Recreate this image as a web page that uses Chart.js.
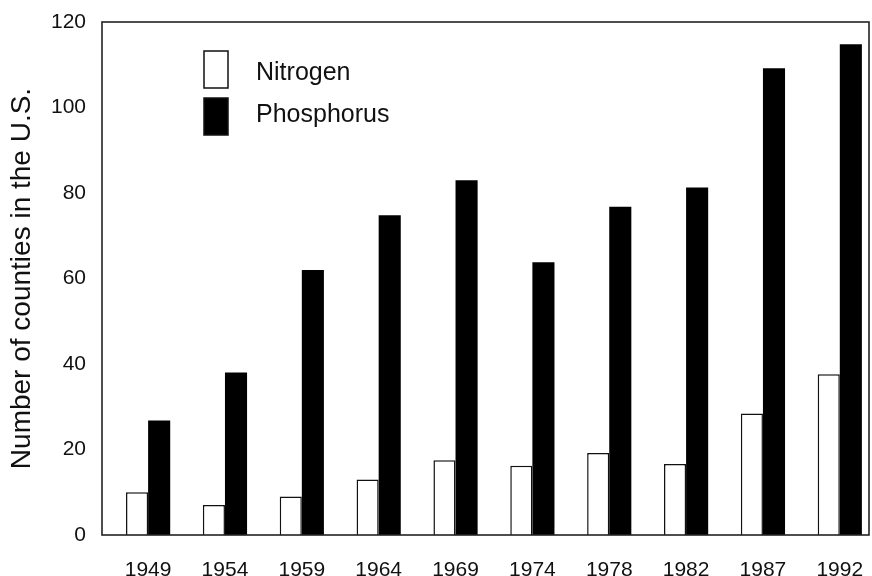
<!DOCTYPE html>
<html>
<head>
<meta charset="utf-8">
<script src="https://cdn.jsdelivr.net/npm/chart.js@4/dist/chart.umd.min.js"></script>
<style>
  html, body { margin: 0; padding: 0; background: #fff; }
  #wrap { width: 872px; height: 576px; }
</style>
</head>
<body>
<div id="wrap"><canvas id="chart" width="872" height="576"></canvas></div>
<script>
var years = ["1949", "1954", "1959", "1964", "1969", "1974", "1978", "1982", "1987", "1992"];
var nitrogen = [10, 7, 9, 13, 17.5, 16.2, 19.2, 16.6, 28.4, 37.6];
var phosphorus = [26.8, 38, 62, 74.8, 83, 63.8, 76.8, 81.3, 109.2, 114.8];
var yTicks = [0, 20, 40, 60, 80, 100, 120];

var ink = "#111";
var font = "'Liberation Sans', Arial, sans-serif";

// frame round the plot + legend drawn inside it
var framePlugin = {
  id: "frame",
  afterDraw: function (chart) {
    var ctx = chart.ctx;
    var a = chart.chartArea;
    ctx.save();
    ctx.strokeStyle = "#222";
    ctx.lineWidth = 1.6;
    ctx.strokeRect(a.left, a.top, a.right - a.left, a.bottom - a.top);

    var items = chart.data.datasets;
    ctx.font = "25px " + font;
    ctx.textBaseline = "middle";
    for (var i = 0; i < items.length; i++) {
      var y = 51 + i * 47;
      ctx.fillStyle = items[i].backgroundColor;
      ctx.fillRect(204, y, 24, 37);
      ctx.lineWidth = 1.5;
      ctx.strokeStyle = "#111";
      ctx.strokeRect(204, y, 24, 37);
      ctx.fillStyle = ink;
      ctx.fillText(items[i].label, 256, 73 + i * 42);
    }
    ctx.restore();
  }
};

new Chart(document.getElementById("chart"), {
  type: "bar",
  data: {
    datasets: [
      {
        label: "Nitrogen",
        data: nitrogen.map(function (v, i) { return { x: i, y: v }; }),
        backgroundColor: "#fff",
        borderColor: "#111",
        borderWidth: 1.5,
        categoryPercentage: 0.575,
        barPercentage: 1
      },
      {
        label: "Phosphorus",
        data: phosphorus.map(function (v, i) { return { x: i, y: v }; }),
        backgroundColor: "#000",
        borderWidth: 0,
        categoryPercentage: 0.575,
        barPercentage: 1
      }
    ]
  },
  options: {
    responsive: false,
    animation: false,
    layout: { padding: { top: 22, right: 3, left: 0, bottom: 0 } },
    plugins: {
      legend: { display: false },
      tooltip: { enabled: false }
    },
    scales: {
      x: {
        type: "linear",
        offset: false,
        min: -0.6,
        max: 9.38,
        grid: { display: false, drawTicks: false },
        border: { display: false },
        afterFit: function (s) { s.height = 41; },
        ticks: {
          stepSize: 1,
          includeBounds: false,
          autoSkip: false,
          maxRotation: 0,
          padding: 0,
          color: ink,
          // tall line box pushes the year labels down without adding side padding
          font: { family: font, size: 21, lineHeight: 3.33 },
          callback: function (v) { return years[v] || ""; }
        }
      },
      y: {
        min: 0,
        max: 120,
        grid: { display: false, drawTicks: false },
        border: { display: false },
        afterFit: function (s) { s.width = 102; },
        afterBuildTicks: function (s) { s.ticks = yTicks.map(function (v) { return { value: v }; }); },
        ticks: {
          padding: 16,
          color: ink,
          font: { family: font, size: 21, lineHeight: 0.55 }
        },
        title: {
          display: true,
          text: "Number of counties in the U.S.",
          color: ink,
          font: { family: font, size: 28 },
          padding: { top: 5, bottom: 0 }
        }
      }
    }
  },
  plugins: [framePlugin]
});
</script>
</body>
</html>
